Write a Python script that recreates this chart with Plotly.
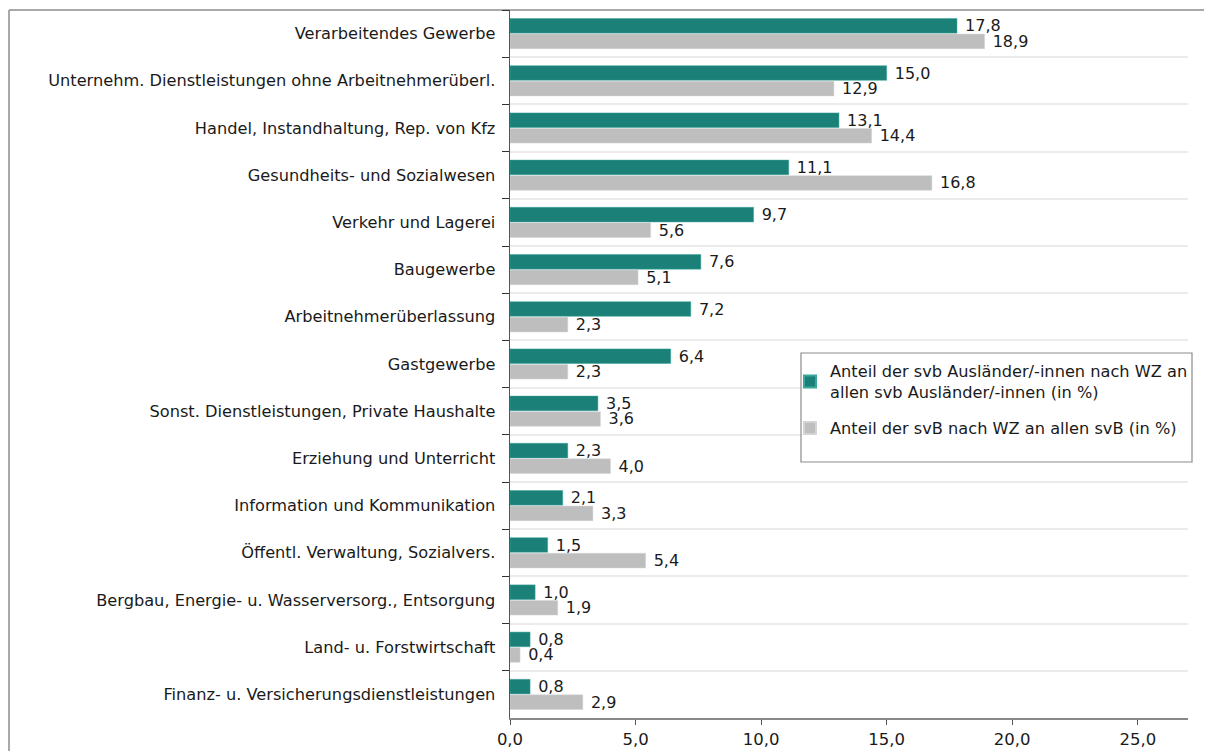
import plotly.graph_objects as go

# Anteile nach Wirtschaftszweigen (in %)
categories = [
    "Verarbeitendes Gewerbe",
    "Unternehm. Dienstleistungen ohne Arbeitnehmerüberl.",
    "Handel, Instandhaltung, Rep. von Kfz",
    "Gesundheits- und Sozialwesen",
    "Verkehr und Lagerei",
    "Baugewerbe",
    "Arbeitnehmerüberlassung",
    "Gastgewerbe",
    "Sonst. Dienstleistungen, Private Haushalte",
    "Erziehung und Unterricht",
    "Information und Kommunikation",
    "Öffentl. Verwaltung, Sozialvers.",
    "Bergbau, Energie- u. Wasserversorg., Entsorgung",
    "Land- u. Forstwirtschaft",
    "Finanz- u. Versicherungsdienstleistungen",
]
auslaender = [17.8, 15.0, 13.1, 11.1, 9.7, 7.6, 7.2, 6.4, 3.5, 2.3, 2.1, 1.5, 1.0, 0.8, 0.8]
alle_svb = [18.9, 12.9, 14.4, 16.8, 5.6, 5.1, 2.3, 2.3, 3.6, 4.0, 3.3, 5.4, 1.9, 0.4, 2.9]
x_ticks = [0, 5, 10, 15, 20, 25]

name_ausl = "Anteil der svb Ausländer/-innen nach WZ an<br>allen svb Ausländer/-innen (in %)"
name_alle = "Anteil der svB nach WZ an allen svB (in %)"

teal = "#1b8178"
grey = "#bebebe"
font = "DejaVu Sans"

# page offset of the plot div (body margin)
OFF = 8
W, H = 1204, 743
# plot area on the page: x 510..1188, y 10..718
L, T = 510 - OFF, 10 - OFF
R = W - (1188 - OFF)
B = H - (718 - OFF)
pw, ph = W - L - R, H - T - B


def px(x):
    return (x - OFF - L) / pw


def py(y):
    return (H - B - (y - OFF)) / ph


def fmt(v):
    return " " + f"{v:.1f}".replace(".", ",")


fig = go.Figure()
fig.add_trace(go.Bar(
    y=categories, x=auslaender, orientation="h", name=name_ausl,
    legend="legend",
    marker=dict(color=teal, line=dict(color="#3aa79c", width=0.5)),
    text=[fmt(v) for v in auslaender],
    textposition="outside", cliponaxis=False, constraintext="none",
    textfont=dict(size=16, color="#1a1a1a", family=font),
))
fig.add_trace(go.Bar(
    y=categories, x=alle_svb, orientation="h", name=name_alle,
    legend="legend2",
    marker=dict(color=grey, line=dict(color="#d4d4d4", width=0.5)),
    text=[fmt(v) for v in alle_svb],
    textposition="outside", cliponaxis=False, constraintext="none",
    textfont=dict(size=16, color="#1a1a1a", family=font),
))

leg = dict(
    xanchor="left", yanchor="top",
    bgcolor="rgba(0,0,0,0)", borderwidth=0,
    font=dict(size=16.2, family=font),
    itemsizing="constant", itemwidth=30,
)

fig.update_layout(
    width=W, height=H,
    margin=dict(l=L, r=R, t=T, b=B),
    paper_bgcolor="white", plot_bgcolor="white",
    barmode="group", bargap=0.34, bargroupgap=0.06,
    separators=",.",
    font=dict(family=font, size=16.2, color="#1a1a1a"),
    showlegend=True,
    legend=dict(leg, x=px(790), y=py(354)),
    legend2=dict(leg, x=px(790), y=py(411)),
    xaxis=dict(
        range=[0, 27], tickvals=x_ticks, tickformat=".1f",
        showgrid=False, zeroline=False, automargin=False,
        showline=True, linecolor="#888888", linewidth=1.5,
        ticks="outside", ticklen=5, tickcolor="#555555",
        tickfont=dict(size=16.5),
    ),
    yaxis=dict(
        autorange="reversed", type="category", automargin=False,
        tickson="boundaries", ticks="outside", ticklen=7, tickcolor="#333333",
        showgrid=True, gridcolor="#ebebeb", gridwidth=2,
        showline=True, linecolor="#555555", linewidth=1.2,
        ticksuffix="  ", tickfont=dict(size=16.2),
    ),
    shapes=[
        # outer frame: top and left edges
        dict(type="line", xref="paper", yref="paper",
             x0=px(9), x1=px(1230), y0=py(10), y1=py(10),
             line=dict(color="#8c8c8c", width=1.5), layer="below"),
        dict(type="line", xref="paper", yref="paper",
             x0=px(9), x1=px(9), y0=py(10), y1=py(770),
             line=dict(color="#8c8c8c", width=1.5), layer="below"),
        # legend box
        dict(type="rect", xref="paper", yref="paper",
             x0=px(801), x1=px(1192), y0=py(462), y1=py(353),
             line=dict(color="#8c8c8c", width=1.2), fillcolor="white",
             layer="above"),
    ],
)

fig.write_html("out.html")
